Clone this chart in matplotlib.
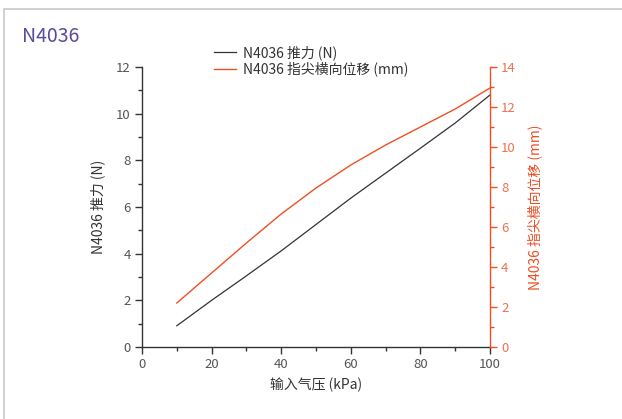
import matplotlib.pyplot as plt
from matplotlib.patches import Rectangle
from matplotlib.ticker import MultipleLocator

plt.rcParams['font.family'] = ['Noto Sans CJK SC', 'DejaVu Sans']

pressure = [10, 20, 30, 40, 50, 60, 70, 80, 90, 100]
force = [0.91, 2.0, 3.05, 4.12, 5.25, 6.38, 7.45, 8.52, 9.6, 10.8]
disp = [2.2, 3.7, 5.2, 6.65, 7.95, 9.1, 10.1, 11.0, 11.9, 12.95]

title = "N4036"
force_label = "N4036 推力 (N)"
disp_label = "N4036 指尖横向位移 (mm)"
x_label = "输入气压 (kPa)"

dark = "#333333"
tick_grey = "#555555"
red = "#f04e23"
red_text = "#f0704f"
purple = "#5b4a9b"

fig = plt.figure(figsize=(6.22, 4.19), dpi=100)
W, H = 622, 419

# card border (top and left edges visible)
fig.patches.append(Rectangle((4 / W, -0.1), 1.2, 1 - 9 / H + 0.1,
                             transform=fig.transFigure, fill=False,
                             edgecolor="#c8c8c8", linewidth=1.2))

fig.text(22 / W, 1 - 36 / H, title, color=purple, fontsize=14,
         va="center", ha="left")

ax = fig.add_axes([142 / W, 1 - 347 / H, 348 / W, 280 / H])
ax2 = ax.twinx()

l1, = ax.plot(pressure, force, color=dark, linewidth=0.9)
l2, = ax2.plot(pressure, disp, color=red, linewidth=1.0)

ax.set_xlim(0, 100)
ax.set_ylim(0, 12)
ax2.set_ylim(0, 14)

ax.xaxis.set_major_locator(MultipleLocator(20))
ax.xaxis.set_minor_locator(MultipleLocator(10))
ax.yaxis.set_major_locator(MultipleLocator(2))
ax.yaxis.set_minor_locator(MultipleLocator(1))
ax2.yaxis.set_major_locator(MultipleLocator(2))
ax2.yaxis.set_minor_locator(MultipleLocator(1))

for a in (ax, ax2):
    a.spines["top"].set_visible(False)
ax.spines["right"].set_visible(False)
ax2.spines["left"].set_visible(False)
ax2.spines["bottom"].set_visible(False)
ax.spines["left"].set_color(dark)
ax.spines["bottom"].set_color(dark)
ax2.spines["right"].set_color(red)
for s in ("left", "bottom"):
    ax.spines[s].set_linewidth(1.0)
ax2.spines["right"].set_linewidth(1.0)

ax.tick_params(which="major", direction="out", length=5, width=1.0,
               color=dark, labelcolor=tick_grey, labelsize=9.5, pad=3)
ax.tick_params(which="minor", direction="out", length=3, width=1.0, color=dark)
ax2.tick_params(which="major", direction="out", length=5, width=1.0,
                color=red, labelcolor=red_text, labelsize=9.5, pad=3)
ax2.tick_params(which="minor", direction="out", length=3, width=1.0, color=red)

ax.set_xlabel(x_label, color=dark, fontsize=10, labelpad=5)
ax.set_ylabel(force_label, color=dark, fontsize=10, labelpad=8)
ax2.set_ylabel(disp_label, color=red, fontsize=10, labelpad=8)

fig.legend([l1, l2], [force_label, disp_label], loc="center left",
           bbox_to_anchor=(208 / W, 1 - 61 / H), frameon=False,
           fontsize=10, handlelength=1.6, handletextpad=0.5,
           labelspacing=0.1, borderaxespad=0, labelcolor=dark)

fig.savefig("out.png", dpi=100)
